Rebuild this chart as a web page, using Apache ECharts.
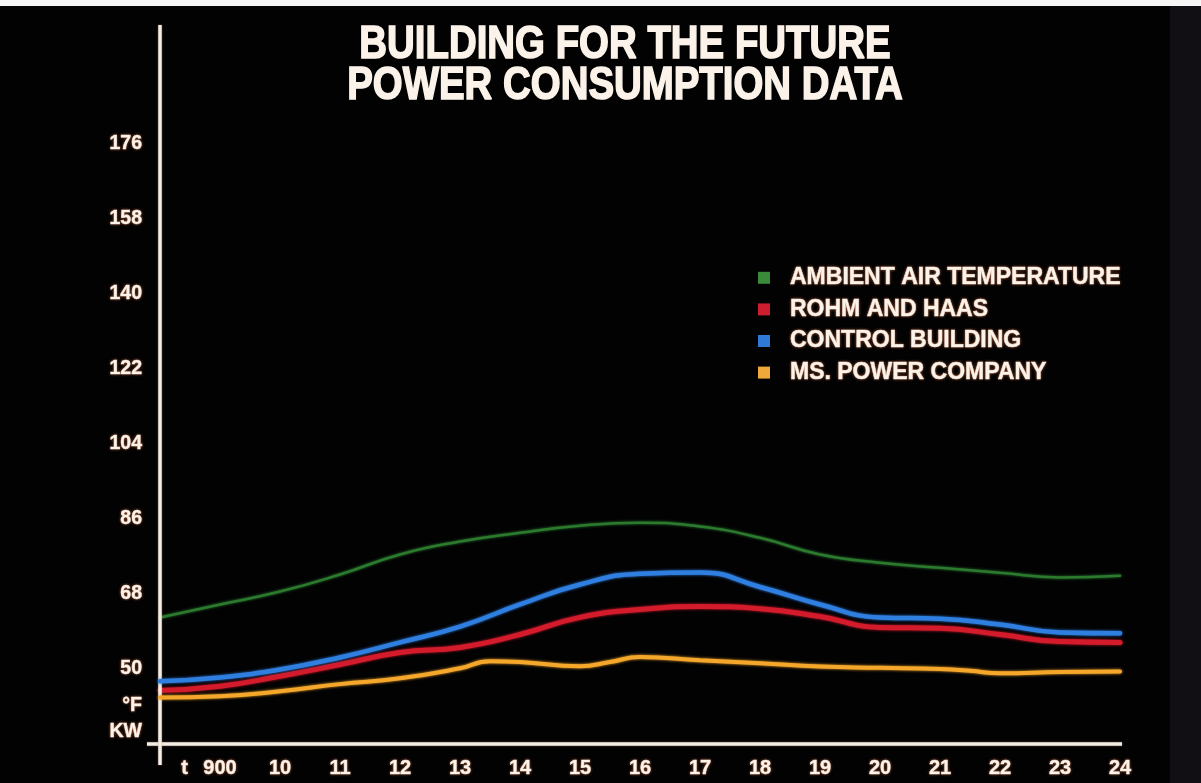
<!DOCTYPE html>
<html><head><meta charset="utf-8">
<script src="https://cdn.jsdelivr.net/npm/echarts@6/dist/echarts.min.js"></script>
<style>html,body{margin:0;padding:0;background:#020203;overflow:hidden}#c{width:1201px;height:783px;}</style>
</head><body><div id="c"></div>
<script>
const titleLines = ['BUILDING FOR THE FUTURE', 'POWER CONSUMPTION DATA'];
const seriesNames = ['AMBIENT AIR TEMPERATURE', 'ROHM AND HAAS', 'CONTROL BUILDING', 'MS. POWER COMPANY'];
const hours = [8, 9, 10, 11, 12, 13, 14, 15, 16, 17, 18, 19, 20, 21, 22, 23, 24];
const ambientAirTemp = [62.4, 65.5, 68.6, 72.7, 77.5, 80.6, 82.7, 84.4, 85.1, 84.2, 81.5, 77.5, 75.5, 74.3, 73.1, 72.0, 72.4];
const rohmAndHaas = [44.9, 45.9, 48.3, 51.1, 54.0, 55.2, 58.3, 62.4, 64.3, 65.0, 64.5, 62.6, 60.0, 59.8, 58.3, 56.6, 56.4];
const controlBuilding = [47.1, 48.0, 49.9, 52.8, 56.4, 60.2, 65.5, 70.3, 72.9, 73.2, 69.7, 65.5, 62.4, 62.1, 60.7, 58.8, 58.6];
const powerHours = [8, 9, 10, 11, 12, 13, 13.5, 14, 15, 15.5, 16, 17, 18, 19, 20, 21, 21.5, 22, 23, 24];
const msPowerCompany = [43.2, 43.5, 44.7, 46.4, 47.8, 50.2, 51.9, 51.7, 50.7, 51.7, 52.9, 52.1, 51.4, 50.6, 50.3, 50.0, 49.6, 49.0, 49.3, 49.4];
const yTickValues = [32, 50, 68, 86, 104, 122, 140, 158, 176];
const yUnitLabel = ['°F', 'KW'];
const xTickValues = [9, 10, 11, 12, 13, 14, 15, 16, 17, 18, 19, 20, 21, 22, 23, 24];
const xFirstPrefix = 't';
const xFirstLabel = '900';

const lineColors = ['#2b7a2e', '#d31b2c', '#2f7fe0', '#f4a72a'];
const legendColors = ['#3a8a3a', '#cc1e2e', '#2f7ad8', '#efa83a'];
const lineWidths = [2.5, 5, 4.5, 4];
const txt = '#fbf3ea';
const glow = 'rgba(170,95,60,0.85)';
const font = "'Liberation Sans', Arial, sans-serif";

const pairs = (xs, ys) => xs.map((x, i) => [x, ys[i]]);
const seriesData = [
  pairs(hours, ambientAirTemp),
  pairs(hours, rohmAndHaas),
  pairs(hours, controlBuilding),
  pairs(powerHours, msPowerCompany)
];

const chart = echarts.init(document.getElementById('c'), null, {renderer: 'canvas'});
const series = seriesNames.map((name, i) => ({
  name, type: 'line', smooth: 0.5, showSymbol: false, symbol: 'none',
  data: seriesData[i],
  itemStyle: {color: legendColors[i]},
  lineStyle: {color: lineColors[i], width: lineWidths[i], shadowColor: lineColors[i], shadowBlur: 3, cap: 'round'},
  z: 3 + i
}));
series[0].markLine = {
  silent: true, symbol: 'none', animation: false,
  label: {show: false},
  lineStyle: {color: '#f3ece4', width: 3.5, type: 'solid', shadowColor: 'rgba(200,150,120,0.6)', shadowBlur: 2},
  data: [{yAxis: 32}, {xAxis: 8}]
};

const titleStyle = (text) => ({
  text, fill: txt, font: 'bold 46px ' + font, align: 'center', verticalAlign: 'middle',
  stroke: txt, lineWidth: 1.6,
  shadowColor: glow, shadowBlur: 4
});

chart.setOption({
  backgroundColor: '#020203',
  animation: false,
  legend: {
    orient: 'vertical', left: 758, top: 266, padding: 0, icon: 'rect',
    itemWidth: 12, itemHeight: 12, itemGap: 8,
    data: seriesNames,
    textStyle: {
      color: txt, fontSize: 23, lineHeight: 23, fontWeight: 'bold',
      fontFamily: font,
      textBorderColor: txt, textBorderWidth: 0.6,
      padding: [0, 0, 0, 15],
      textShadowColor: glow, textShadowBlur: 3
    },
    selectedMode: false
  },
  graphic: [
    {type: 'rect', shape: {x: 1170, y: 0, width: 31, height: 783}, style: {fill: '#110e14'}, silent: true, z: -1},
    {type: 'rect', shape: {x: 0, y: 0, width: 1201, height: 6}, style: {fill: '#f6f6f6'}, silent: true, z: 10},
    {type: 'text', x: 625, y: 45, scaleX: 0.835, style: titleStyle(titleLines[0]), silent: true, z: 10},
    {type: 'text', x: 625, y: 86, scaleX: 0.835, style: titleStyle(titleLines[1]), silent: true, z: 10}
  ],
  grid: {left: 147, right: 79, top: 25, bottom: 18, containLabel: false, outerBoundsMode: 'none'},
  xAxis: {
    type: 'value', min: 8 - 13 / 59.94, max: 24 + 2 / 59.94,
    offset: -21,
    axisLine: {show: false}, axisTick: {show: false}, splitLine: {show: false},
    axisLabel: {
      customValues: xTickValues, margin: 14,
      color: txt, fontSize: 20, fontWeight: 'bold',
      fontFamily: font,
      textBorderColor: txt, textBorderWidth: 0.5,
      textShadowColor: glow, textShadowBlur: 3,
      formatter: v => v === xTickValues[0] ? '{t|' + xFirstPrefix + '}{n|' + xFirstLabel + '}{p|}' : String(v),
      rich: {
        t: {width: 22, align: 'left', fontSize: 20, fontWeight: 'bold', color: txt, fontFamily: font},
        n: {fontSize: 20, fontWeight: 'bold', color: txt, fontFamily: font},
        p: {width: 22}
      }
    }
  },
  yAxis: {
    type: 'value', min: 27, max: 204.5,
    axisLine: {show: false}, axisTick: {show: false}, splitLine: {show: false},
    axisLabel: {
      customValues: yTickValues, margin: 5,
      color: txt, fontSize: 19.5, fontWeight: 'bold',
      fontFamily: font,
      textBorderColor: txt, textBorderWidth: 0.5,
      textShadowColor: glow, textShadowBlur: 3,
      formatter: v => v === yTickValues[0] ? '{u|' + yUnitLabel.join('\n') + '}' : String(v),
      rich: {
        u: {fontSize: 19.5, fontWeight: 'bold', lineHeight: 26, color: txt, align: 'right', padding: [0, 0, 52, 0], fontFamily: font}
      }
    }
  },
  series
});
</script>
</body></html>
